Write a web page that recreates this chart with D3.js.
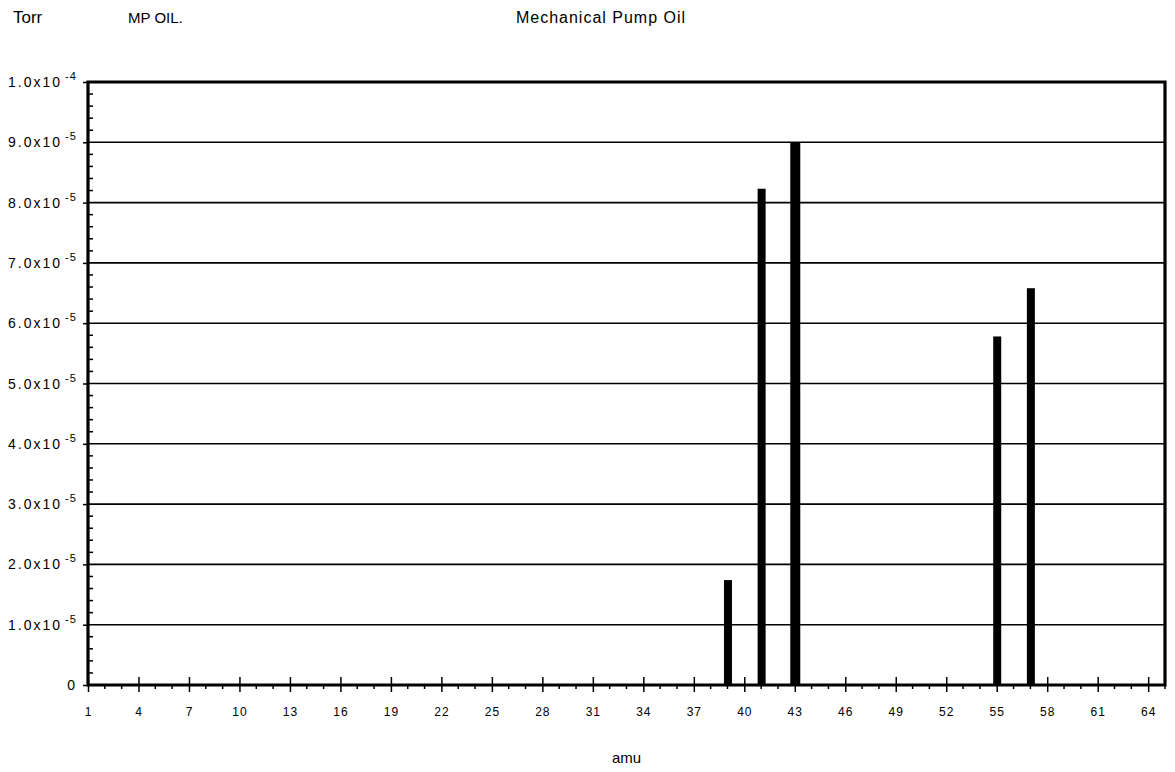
<!DOCTYPE html>
<html>
<head>
<meta charset="utf-8">
<script src="https://cdn.jsdelivr.net/npm/d3@7"></script>
<style>
  html, body { margin: 0; padding: 0; background: #fff; }
  svg text { font-family: "Liberation Sans", Arial, sans-serif; fill: #000; }
</style>
</head>
<body>
<svg id="chart" width="1175" height="772"></svg>
<script>
// ---- data ----
const title = "Mechanical Pump Oil";
const unitLabel = "Torr";
const sampleLabel = "MP OIL.";
const xLabel = "amu";
const amu = [39, 41, 43, 55, 57];
const pressure = [1.74e-5, 8.23e-5, 9.0e-5, 5.78e-5, 6.58e-5];
const xTickValues = [1, 4, 7, 10, 13, 16, 19, 22, 25, 28, 31, 34, 37, 40, 43, 46, 49, 52, 55, 58, 61, 64];
const yTickValues = [0, 1e-5, 2e-5, 3e-5, 4e-5, 5e-5, 6e-5, 7e-5, 8e-5, 9e-5, 1e-4];
const yTickMantissa = ["0", "1.0x10", "2.0x10", "3.0x10", "4.0x10", "5.0x10", "6.0x10", "7.0x10", "8.0x10", "9.0x10", "1.0x10"];
const yTickExponent = ["", "-5", "-5", "-5", "-5", "-5", "-5", "-5", "-5", "-5", "-4"];

// ---- layout ----
const svg = d3.select("#chart");
const L = 88, R = 1165, T = 82, B = 685;
const x = d3.scaleLinear().domain([1, 65]).range([L, R]);
const y = d3.scaleLinear().domain([0, 1e-4]).range([B, T]);

// gridlines
svg.append("g").selectAll("line")
  .data(yTickValues.filter(v => v > 0 && v < 1e-4))
  .join("line")
  .attr("x1", L).attr("x2", R)
  .attr("y1", d => y(d)).attr("y2", d => y(d))
  .attr("stroke", "#000").attr("stroke-width", 1.6);

// bars
svg.append("g").selectAll("rect")
  .data(amu.map((a, i) => ({ a, v: pressure[i] })))
  .join("rect")
  .attr("x", d => x(d.a) - (d.a === 43 ? 4.5 : 3.5))
  .attr("width", d => d.a === 43 ? 10 : 8)
  .attr("y", d => y(d.v))
  .attr("height", d => B - y(d.v))
  .attr("fill", "#000");

// y axis: major ticks outside, minor ticks inside
const yAxis = d3.axisLeft(y).tickValues(yTickValues).tickSize(5).tickFormat("");
const gy = svg.append("g").attr("transform", `translate(${L},0)`).call(yAxis);
gy.select(".domain").remove();
gy.selectAll(".tick line").attr("stroke", "#000").attr("stroke-width", 1.5);

const yMinor = d3.range(0, 51).map(i => i * 2e-6).filter(v => Math.round(v / 2e-6) % 5 !== 0);
svg.append("g").selectAll("line")
  .data(yMinor).join("line")
  .attr("x1", L).attr("x2", L + 5)
  .attr("y1", d => y(d)).attr("y2", d => y(d))
  .attr("stroke", "#000").attr("stroke-width", 1.5);

// y tick labels with superscript exponents
svg.append("g").selectAll("text")
  .data(yTickValues.map((v, i) => ({ v, m: yTickMantissa[i], e: yTickExponent[i] })))
  .join("text")
  .attr("x", d => d.e ? 62 : 77)
  .attr("y", d => y(d.v) + 5)
  .attr("text-anchor", "end")
  .attr("font-size", 14)
  .attr("letter-spacing", 2)
  .text(d => d.m);
svg.append("g").selectAll("text")
  .data(yTickValues.map((v, i) => ({ v, e: yTickExponent[i] })).filter(d => d.e))
  .join("text")
  .attr("x", 65)
  .attr("y", d => y(d.v) - 2)
  .attr("font-size", 11)
  .attr("letter-spacing", 1)
  .text(d => d.e);

// x axis: major ticks both sides, minor below
const xAxis = d3.axisBottom(x).tickValues(xTickValues).tickSize(7).tickFormat(d => d);
const gx = svg.append("g").attr("transform", `translate(0,${B})`).call(xAxis);
gx.select(".domain").remove();
gx.selectAll(".tick line").attr("stroke", "#000").attr("stroke-width", 1.5).attr("y1", -8);
gx.selectAll(".tick text")
  .attr("y", 22)
  .attr("font-size", 12)
  .attr("letter-spacing", 1)
  .attr("font-family", "Liberation Sans, Arial, sans-serif")
  .attr("fill", "#000");

const xMinor = d3.range(1, 66).filter(v => (v - 1) % 3 !== 0);
svg.append("g").selectAll("line")
  .data(xMinor).join("line")
  .attr("x1", d => x(d)).attr("x2", d => x(d))
  .attr("y1", B).attr("y2", B + 4)
  .attr("stroke", "#000").attr("stroke-width", 1.5);

// frame: thick axes and border
svg.append("path")
  .attr("d", `M${L},${B}H${R}V${T}H${L}Z`)
  .attr("fill", "none").attr("stroke", "#000").attr("stroke-width", 3.2);

// texts
svg.append("text").attr("x", 13).attr("y", 23).attr("font-size", 17).text(unitLabel);
svg.append("text").attr("x", 128).attr("y", 23).attr("font-size", 15).text(sampleLabel);
svg.append("text").attr("x", 601).attr("y", 23).attr("text-anchor", "middle").attr("font-size", 16).attr("letter-spacing", 1).text(title);
svg.append("text").attr("x", (L + R) / 2).attr("y", 763).attr("text-anchor", "middle").attr("font-size", 15).text(xLabel);
</script>
</body>
</html>
